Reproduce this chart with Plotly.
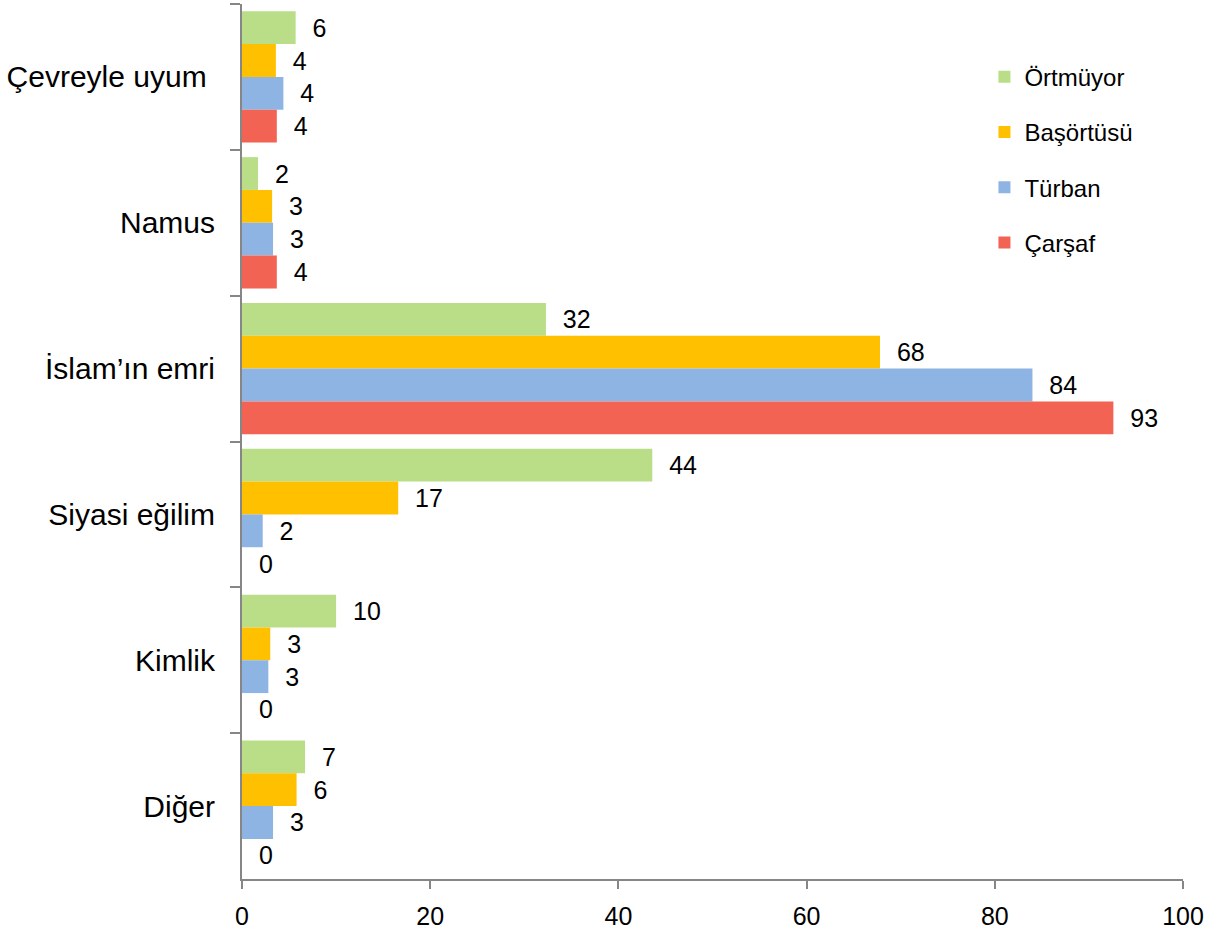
import plotly.graph_objects as go

categories = ["Çevreyle uyum\u00a0", "Namus", "İslam’ın emri", "Siyasi eğilim", "Kimlik", "Diğer"]
series_names = ["Örtmüyor", "Başörtüsü", "Türban", "Çarşaf"]
ortmuyor = [5.7, 1.7, 32.3, 43.6, 10.0, 6.7]
basortusu = [3.6, 3.2, 67.8, 16.6, 3.0, 5.8]
turban = [4.4, 3.3, 84.0, 2.2, 2.8, 3.3]
carsaf = [3.7, 3.7, 92.6, 0, 0, 0]
x_ticks = [0, 20, 40, 60, 80, 100]

colors = ["#B9DE87", "#FFC000", "#8EB4E3", "#F26354"]
series_values = [ortmuyor, basortusu, turban, carsaf]

FONT = "Liberation Sans, Arial, sans-serif"

fig = go.Figure()
for name, vals, col in zip(series_names, series_values, colors):
    fig.add_trace(go.Bar(
        y=categories, x=vals, name=name, orientation="h",
        marker=dict(color=col, line=dict(width=0)),
        text=[f"\u00a0\u00a0{round(v + 1e-9)}" for v in vals],
        textposition="outside", cliponaxis=False,
        textfont=dict(family=FONT, size=25, color="black"),
        legendgroup=name,
    ))

fig.update_layout(
    barmode="group", bargap=0.1, bargroupgap=0,
    width=1222, height=934,
    margin=dict(l=242, r=39, t=4, b=53),
    plot_bgcolor="white", paper_bgcolor="white",
    font=dict(family=FONT, color="black"),
    legend=dict(x=0.789, y=0.942, xanchor="left", yanchor="top",
                font=dict(family=FONT, size=24, color="black"),
                itemwidth=30,
                tracegroupgap=21, bgcolor="rgba(0,0,0,0)"),
)
fig.update_xaxes(range=[0, 100], tickvals=x_ticks, showgrid=False, zeroline=False,
                 showline=True, linecolor="#868686", linewidth=2,
                 ticks="outside", ticklen=8, tickcolor="#868686", tickwidth=2,
                 ticklabelstandoff=6,
                 tickfont=dict(family=FONT, size=25, color="black"))
fig.update_yaxes(autorange="reversed", showgrid=False, zeroline=False,
                 showline=True, linecolor="#868686", linewidth=2,
                 ticks="outside", ticklen=10, tickcolor="#868686", tickwidth=2,
                 tickson="boundaries", ticklabelstandoff=19,
                 tickfont=dict(family=FONT, size=30, color="black"))

fig.write_html("out.html", config={"displayModeBar": False},
               post_script="document.body.style.margin='0';")
